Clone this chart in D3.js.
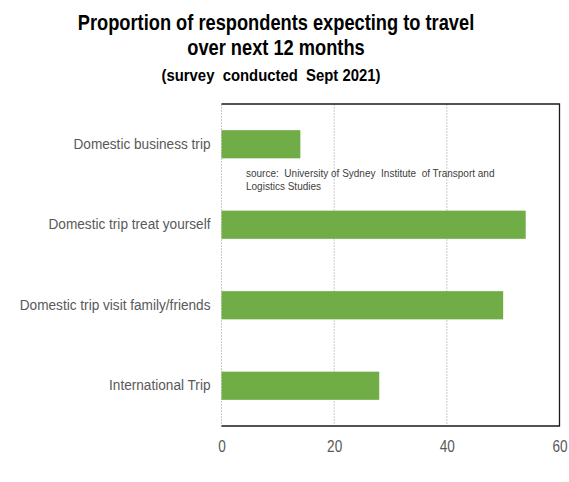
<!DOCTYPE html>
<html>
<head>
<meta charset="utf-8">
<script src="https://cdn.jsdelivr.net/npm/d3@7"></script>
<style>
  html, body { margin: 0; padding: 0; background: #fff; }
  svg { display: block; }
</style>
</head>
<body>
<svg id="chart" width="569" height="482"></svg>
<script>
// Survey results: share of respondents expecting each kind of trip
const categories = [
  "Domestic business trip",
  "Domestic trip treat yourself",
  "Domestic trip visit family/friends",
  "International Trip"
];
const values = [14, 54, 50, 28];
const xTicks = [0, 20, 40, 60];
const titleLines = [
  "Proportion of respondents expecting to travel",
  "over next 12 months"
];
const subtitle = "(survey  conducted  Sept 2021)";
const sourceLines = [
  "source:  University of Sydney  Institute  of Transport and",
  "Logistics Studies"
];

const font = "'Liberation Sans', Arial, sans-serif";
const svg = d3.select("#chart");

// squeeze text horizontally around its own x anchor (narrow-face look)
function condense(sel, f) {
  sel.each(function () {
    const t = d3.select(this);
    const ax = +t.attr("x") || 0;
    t.attr("transform", `translate(${ax},0) scale(${f},1) translate(${-ax},0)`);
  });
}

const plot = { left: 221.5, right: 559.5, top: 104, bottom: 426 };

const x = d3.scaleLinear().domain([0, 60]).range([plot.left, plot.right]);
const y = d3.scaleBand().domain(categories).range([plot.top, plot.bottom])
  .paddingInner(0.65).paddingOuter(0.325);

// vertical gridlines
svg.append("g").selectAll("line").data(xTicks).join("line")
  .attr("x1", d => x(d)).attr("x2", d => x(d))
  .attr("y1", plot.top).attr("y2", plot.bottom)
  .attr("stroke", "#c9c9c9").attr("stroke-width", 1)
  .attr("stroke-dasharray", "2,1");

// bars
svg.append("g").selectAll("rect").data(values).join("rect")
  .attr("x", x(0))
  .attr("y", (d, i) => y(categories[i]))
  .attr("width", d => x(d) - x(0))
  .attr("height", y.bandwidth())
  .attr("fill", "#70ad47");

// frame: top, right and bottom edges
svg.append("path")
  .attr("d", `M${plot.left},${plot.top}H${plot.right}V${plot.bottom}H${plot.left}`)
  .attr("fill", "none").attr("stroke", "#1a1a1a").attr("stroke-width", 1.3);

// x axis tick labels
const xAxis = d3.axisBottom(x).tickValues(xTicks).tickSize(0).tickPadding(15);
const gx = svg.append("g").attr("transform", `translate(0,${plot.bottom})`).call(xAxis);
gx.select(".domain").remove();
gx.selectAll("text")
  .attr("font-family", font).attr("font-size", 16).attr("fill", "#595959")
  .call(condense, 0.85);

// category labels
const yAxis = d3.axisLeft(y).tickSize(0).tickPadding(11);
const gy = svg.append("g").attr("transform", `translate(${plot.left},0)`).call(yAxis);
gy.select(".domain").remove();
gy.selectAll("text")
  .attr("font-family", font).attr("font-size", 14.5).attr("fill", "#595959")
  .call(condense, 0.94);

// title
svg.append("g").selectAll("text").data(titleLines).join("text")
  .attr("x", 276).attr("y", (d, i) => 30 + i * 25)
  .attr("text-anchor", "middle")
  .attr("font-family", font).attr("font-weight", "bold")
  .attr("font-size", 22).attr("fill", "#000")
  .text(d => d)
  .call(condense, 0.83);

svg.append("text")
  .attr("x", 271).attr("y", 81)
  .attr("text-anchor", "middle")
  .attr("font-family", font).attr("font-weight", "bold")
  .attr("font-size", 16).attr("fill", "#000")
  .style("white-space", "pre")
  .text(subtitle)
  .call(condense, 0.93);

// source note
svg.append("g").selectAll("text").data(sourceLines).join("text")
  .attr("x", 246).attr("y", (d, i) => 177 + i * 13)
  .attr("font-family", font).attr("font-size", 10)
  .attr("fill", "#404040")
  .style("white-space", "pre")
  .text(d => d);
</script>
</body>
</html>
